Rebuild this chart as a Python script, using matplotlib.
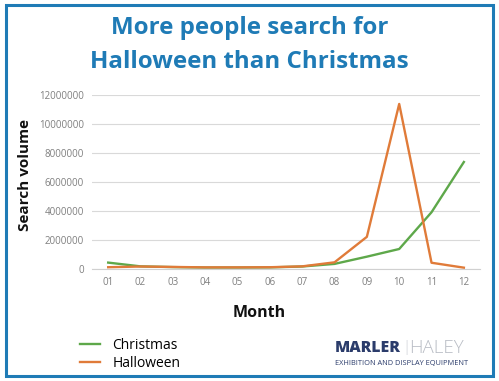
import matplotlib.pyplot as plt
from matplotlib.patches import Rectangle

months = ['01', '02', '03', '04', '05', '06', '07', '08', '09', '10', '11', '12']
christmas = [420000, 160000, 110000, 80000, 80000, 90000, 150000, 330000,
             830000, 1360000, 3900000, 7370000]
halloween = [100000, 150000, 120000, 90000, 90000, 100000, 160000, 440000,
             2200000, 11380000, 410000, 70000]
y_ticks = [0, 2000000, 4000000, 6000000, 8000000, 10000000, 12000000]

green = '#5ea84a'
orange = '#e07b39'
blue = '#1f7bb6'

plt.rcParams['font.family'] = ['Open Sans', 'DejaVu Sans']

fig = plt.figure(figsize=(4.99, 3.81), dpi=100)
fig.patch.set_facecolor('white')

# frame round the whole picture
fig.patches.append(Rectangle((0.012, 0.012), 0.976, 0.976, transform=fig.transFigure,
                             fill=False, edgecolor=blue, linewidth=2.2))

ax = fig.add_axes([0.1844, 0.2948, 0.7776, 0.4559])
x = list(range(1, len(months) + 1))
ax.plot(x, christmas, color=green, linewidth=1.7)
ax.plot(x, halloween, color=orange, linewidth=1.7)

ax.set_xlim(0.5, 12.5)
ax.set_ylim(0, 12000000)
ax.set_xticks(x)
ax.set_xticklabels(months)
ax.set_yticks(y_ticks)
ax.set_yticklabels([str(v) for v in y_ticks])
ax.tick_params(length=0, labelsize=7, colors='#7f7f7f', pad=6)
ax.grid(axis='y', color='#d9d9d9', linewidth=0.8)
ax.set_axisbelow(True)
for side in ['top', 'right', 'left']:
    ax.spines[side].set_visible(False)
ax.spines['bottom'].set_color('#d0d0d0')

fig.text(0.05, 0.54, 'Search volume', rotation=90, ha='center', va='center',
         fontsize=11, fontweight='bold', color='#111111')
fig.text(0.519, 0.178, 'Month', ha='center', va='center',
         fontsize=11.5, fontweight='bold', color='#111111')

fig.text(0.5, 0.926, 'More people search for', ha='center', va='center',
         fontsize=17.4, fontweight='bold', color=blue)
fig.text(0.5, 0.838, 'Halloween than Christmas', ha='center', va='center',
         fontsize=17.4, fontweight='bold', color=blue)

# legend below the plot
fig.legend(['Christmas', 'Halloween'], loc='upper left', bbox_to_anchor=(0.135, 0.145),
           frameon=False, fontsize=10, handlelength=1.45, handletextpad=0.9,
           labelspacing=0.2)

# logo
fig.text(0.671, 0.086, 'MARLER', ha='left', va='center', fontsize=11.3,
         fontweight='heavy', color='#2b3c6b')
fig.text(0.806, 0.088, '|', ha='left', va='center', fontsize=11,
         color='#c8ccd2', fontweight='light')
fig.text(0.82, 0.086, 'HALEY', ha='left', va='center', fontsize=13.5,
         color='#b8bcc4', fontweight='light')
fig.text(0.671, 0.047, 'EXHIBITION AND DISPLAY EQUIPMENT', ha='left', va='center',
         fontsize=5.3, color='#2b3c6b')

fig.savefig('out.png', dpi=100)
